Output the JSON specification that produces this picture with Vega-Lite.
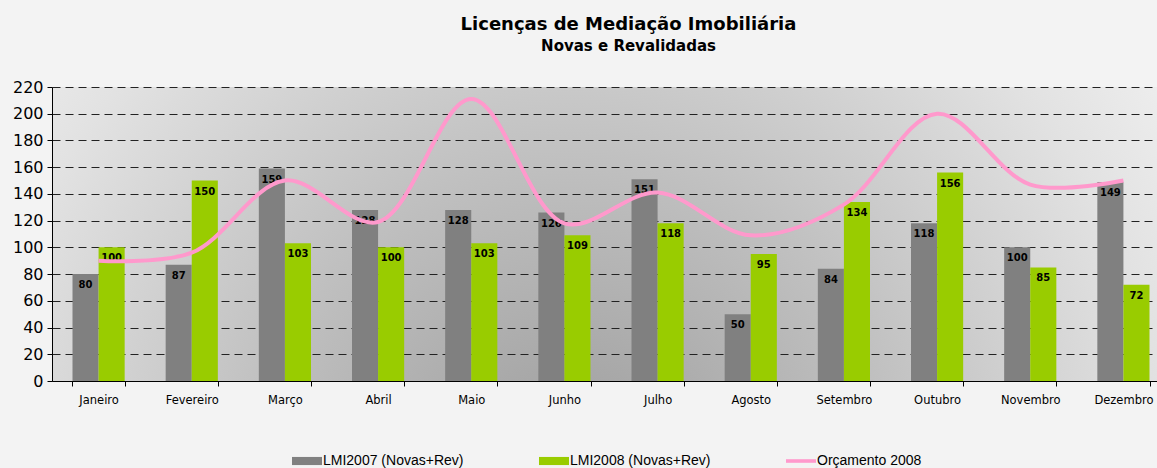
{
  "$schema": "https://vega.github.io/schema/vega-lite/v6.json",
  "width": 1105,
  "height": 294,
  "autosize": {"type": "none"},
  "padding": {"left": 52, "top": 87, "right": 0, "bottom": 87},
  "background": "#f3f3f3",
  "title": {
    "text": "Licenças de Mediação Imobiliária",
    "subtitle": "Novas e Revalidadas",
    "font": "DejaVu Sans",
    "fontSize": 18,
    "fontWeight": "bold",
    "color": "#000000",
    "subtitleFont": "DejaVu Sans",
    "subtitleFontSize": 15,
    "subtitleFontWeight": "bold",
    "subtitleColor": "#000000",
    "subtitlePadding": 5,
    "anchor": "middle",
    "dx": 24,
    "offset": 25
  },
  "datasets": {
    "bars": [
      {"month": "Janeiro", "series": "LMI2007 (Novas+Rev)", "value": 80},
      {"month": "Janeiro", "series": "LMI2008 (Novas+Rev)", "value": 100},
      {"month": "Fevereiro", "series": "LMI2007 (Novas+Rev)", "value": 87},
      {"month": "Fevereiro", "series": "LMI2008 (Novas+Rev)", "value": 150},
      {"month": "Março", "series": "LMI2007 (Novas+Rev)", "value": 159},
      {"month": "Março", "series": "LMI2008 (Novas+Rev)", "value": 103},
      {"month": "Abril", "series": "LMI2007 (Novas+Rev)", "value": 128},
      {"month": "Abril", "series": "LMI2008 (Novas+Rev)", "value": 100},
      {"month": "Maio", "series": "LMI2007 (Novas+Rev)", "value": 128},
      {"month": "Maio", "series": "LMI2008 (Novas+Rev)", "value": 103},
      {"month": "Junho", "series": "LMI2007 (Novas+Rev)", "value": 126},
      {"month": "Junho", "series": "LMI2008 (Novas+Rev)", "value": 109},
      {"month": "Julho", "series": "LMI2007 (Novas+Rev)", "value": 151},
      {"month": "Julho", "series": "LMI2008 (Novas+Rev)", "value": 118},
      {"month": "Agosto", "series": "LMI2007 (Novas+Rev)", "value": 50},
      {"month": "Agosto", "series": "LMI2008 (Novas+Rev)", "value": 95},
      {"month": "Setembro", "series": "LMI2007 (Novas+Rev)", "value": 84},
      {"month": "Setembro", "series": "LMI2008 (Novas+Rev)", "value": 134},
      {"month": "Outubro", "series": "LMI2007 (Novas+Rev)", "value": 118},
      {"month": "Outubro", "series": "LMI2008 (Novas+Rev)", "value": 156},
      {"month": "Novembro", "series": "LMI2007 (Novas+Rev)", "value": 100},
      {"month": "Novembro", "series": "LMI2008 (Novas+Rev)", "value": 85},
      {"month": "Dezembro", "series": "LMI2007 (Novas+Rev)", "value": 149},
      {"month": "Dezembro", "series": "LMI2008 (Novas+Rev)", "value": 72}
    ],
    "budget": [
      {"month": "Janeiro", "series": "Orçamento 2008", "value": 90},
      {"month": "Fevereiro", "series": "Orçamento 2008", "value": 96},
      {"month": "Março", "series": "Orçamento 2008", "value": 150},
      {"month": "Abril", "series": "Orçamento 2008", "value": 119},
      {"month": "Maio", "series": "Orçamento 2008", "value": 211},
      {"month": "Junho", "series": "Orçamento 2008", "value": 118},
      {"month": "Julho", "series": "Orçamento 2008", "value": 141},
      {"month": "Agosto", "series": "Orçamento 2008", "value": 109},
      {"month": "Setembro", "series": "Orçamento 2008", "value": 132},
      {"month": "Outubro", "series": "Orçamento 2008", "value": 200},
      {"month": "Novembro", "series": "Orçamento 2008", "value": 147},
      {"month": "Dezembro", "series": "Orçamento 2008", "value": 150}
    ]
  },
  "encoding": {
    "x": {
      "field": "month",
      "type": "nominal",
      "sort": ["Janeiro", "Fevereiro", "Março", "Abril", "Maio", "Junho", "Julho", "Agosto", "Setembro", "Outubro", "Novembro", "Dezembro"],
      "scale": {"paddingInner": 0.44, "paddingOuter": 0.22, "range": [0, 1118]},
      "axis": {
        "title": null,
        "labelAngle": 0,
        "tickBand": "extent",
        "domainColor": "#000000",
        "tickColor": "#000000",
        "tickSize": 5,
        "labelPadding": 8,
        "labelFont": "DejaVu Sans",
        "labelFontSize": 11.5,
        "labelColor": "#000000",
        "grid": false
      }
    },
    "y": {
      "field": "value",
      "type": "quantitative",
      "scale": {"domain": [0, 220], "nice": false, "zero": true},
      "axis": {
        "title": null,
        "values": [0, 20, 40, 60, 80, 100, 120, 140, 160, 180, 200, 220],
        "labelOverlap": false,
        "labelFlush": false,
        "grid": true,
        "gridDash": [8, 5],
        "gridColor": "#222222",
        "gridOpacity": 1,
        "domainColor": "#000000",
        "tickColor": "#000000",
        "tickSize": 5,
        "labelPadding": 4,
        "labelFont": "DejaVu Sans",
        "labelFontSize": 16,
        "labelColor": "#000000"
      }
    }
  },
  "layer": [
    {
      "data": {"name": "bars"},
      "mark": {"type": "bar"},
      "encoding": {
        "xOffset": {"field": "series", "type": "nominal", "scale": {"paddingInner": 0, "paddingOuter": 0}},
        "color": {
          "field": "series",
          "type": "nominal",
          "scale": {
            "domain": ["LMI2007 (Novas+Rev)", "LMI2008 (Novas+Rev)", "Orçamento 2008"],
            "range": ["#808080", "#99cc00", "#ff99cc"]
          },
          "legend": {
            "title": null,
            "orient": "none",
            "direction": "horizontal",
            "legendX": 240,
            "legendY": 359,
            "gridAlign": "all",
            "columnPadding": 75,
            "labelFont": "Liberation Sans",
            "labelFontSize": 14,
            "labelColor": "#000000",
            "labelOffset": 1,
            "symbolSize": 900,
            "symbolOpacity": 1,
            "symbolStrokeWidth": 0,
            "encode": {
              "symbols": {
                "update": {
                  "shape": {"signal": "datum.value === 'Orçamento 2008' ? 'M-1,-0.12H1V0.12H-1Z' : 'M-1,-0.27H1V0.27H-1Z'"},
                  "fill": {"scale": "color", "field": "value"},
                  "opacity": {"value": 1},
                  "strokeWidth": {"value": 0}
                }
              }
            }
          }
        }
      }
    },
    {
      "data": {"name": "bars"},
      "mark": {"type": "text", "baseline": "middle", "dy": 11, "font": "DejaVu Sans", "fontSize": 10, "fontWeight": "bold", "color": "#000000"},
      "encoding": {
        "xOffset": {"field": "series", "type": "nominal"},
        "text": {"field": "value", "type": "quantitative"}
      }
    },
    {
      "data": {"name": "budget"},
      "mark": {"type": "line", "interpolate": "catmull-rom", "strokeWidth": 4},
      "encoding": {
        "color": {"field": "series", "type": "nominal"}
      }
    }
  ],
  "config": {
    "view": {
      "stroke": null,
      "fill": {"expr": "{gradient: 'radial', x1: 0.47, y1: 0.72, r1: 0, x2: 0.47, y2: 0.72, r2: 0.72, stops: [{offset: 0, color: '#9c9c9c'}, {offset: 0.4, color: '#c0c0c0'}, {offset: 0.75, color: '#e2e2e2'}, {offset: 1, color: '#f6f6f6'}]}"}
    }
  }
}
